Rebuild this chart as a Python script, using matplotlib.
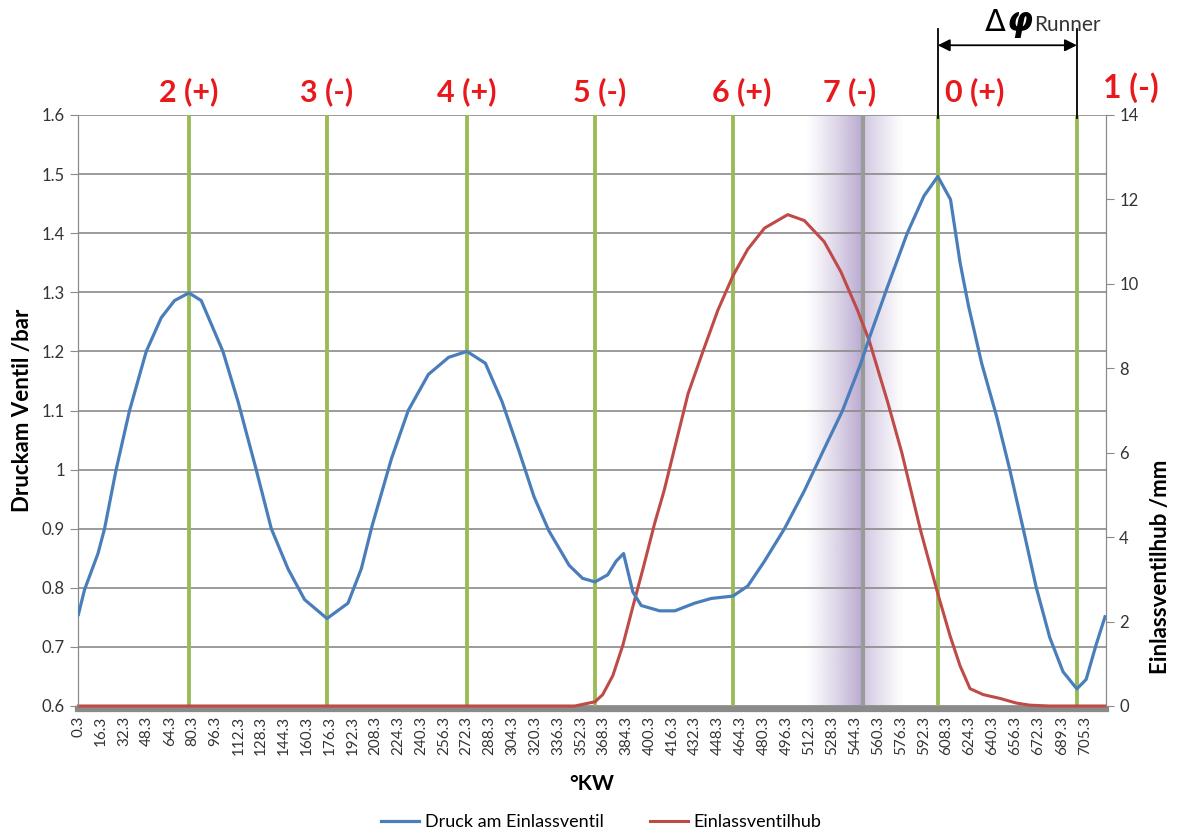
import numpy as np
import matplotlib
matplotlib.use("Agg")
import matplotlib.pyplot as plt
from matplotlib.ticker import FuncFormatter, FixedLocator
from matplotlib.transforms import blended_transform_factory

plt.rcParams['font.family'] = ['Lato', 'DejaVu Sans']

# Kurbelwinkel (deg) und Druck am Einlassventil (bar)
druck_kw = [0.3, 4.6, 14.0, 18.6, 26.7, 36.1, 47.8, 58.3, 67.6, 77.7, 86.3, 101.5, 112.1,
            124.8, 135.4, 147.1, 158.7, 174.4, 189.1, 198.4, 206.0, 219.6, 231.3, 245.4,
            259.6, 272.4, 285.3, 297.0, 308.8, 319.4, 329.9, 344.0, 353.4, 362.1, 371.0,
            376.9, 382.1, 388.6, 394.5, 407.4, 418.0, 431.9, 443.6, 458.7, 469.1, 480.8,
            494.8, 508.7, 522.6, 535.5, 548.3, 554.1, 566.9, 580.8, 592.5, 602.2, 611.1,
            617.8, 623.7, 632.9, 643.4, 652.6, 662.0, 671.2, 680.6, 689.9, 699.6, 706.1,
            713.0, 719.3]
druck = [0.755, 0.797, 0.858, 0.90, 1.0, 1.10, 1.20, 1.257, 1.286, 1.299, 1.286, 1.20, 1.115,
         1.0, 0.90, 0.832, 0.78, 0.748, 0.774, 0.832, 0.905, 1.019, 1.10, 1.161,
         1.19, 1.20, 1.18, 1.115, 1.032, 0.954, 0.896, 0.838, 0.816, 0.81, 0.822,
         0.845, 0.858, 0.793, 0.77, 0.761, 0.761, 0.774, 0.782, 0.786, 0.803, 0.845,
         0.90, 0.964, 1.035, 1.10, 1.18, 1.222, 1.309, 1.40, 1.463, 1.496, 1.457,
         1.35, 1.277, 1.18, 1.09, 1.0, 0.90, 0.80, 0.716, 0.658, 0.629, 0.645,
         0.703, 0.751]

# Einlassventilhub (mm)
hub_kw = [0.3, 348.0, 362.1, 367.5, 374.6, 381.6, 388.6, 395.7, 403.9, 410.5, 418.0, 427.3,
          437.8, 448.2, 458.7, 469.1, 480.8, 497.1, 508.7, 522.6, 534.4, 545.9, 554.1,
          566.9, 577.0, 590.2, 602.2, 610.9, 617.8, 624.8, 634.0, 645.7, 657.2, 666.6,
          680.0, 719.3]
hub = [0.0, 0.0, 0.1, 0.27, 0.72, 1.44, 2.35, 3.25, 4.33, 5.1, 6.13, 7.4,
       8.41, 9.38, 10.19, 10.82, 11.32, 11.64, 11.50, 11.0, 10.28, 9.38, 8.66,
       7.22, 6.0, 4.15, 2.66, 1.65, 0.95, 0.41, 0.27, 0.18, 0.07, 0.02,
       0.0, 0.0]

tick_labels = ['0.3', '16.3', '32.3', '48.3', '64.3', '80.3', '96.3', '112.3', '128.3',
               '144.3', '160.3', '176.3', '192.3', '208.3', '224.3', '240.3', '256.3',
               '272.3', '288.3', '304.3', '320.3', '336.3', '352.3', '368.3', '384.3',
               '400.3', '416.3', '432.3', '448.3', '464.3', '480.3', '496.3', '512.3',
               '528.3', '544.3', '560.3', '576.3', '592.3', '608.3', '624.3', '640.3',
               '656.3', '672.3', '689.3', '705.3']

# Takt-Markierungen
marker_kw = [77.7, 174.4, 272.4, 362.0, 458.7, 602.2, 699.6]
marker_txt = ['2 (+)', '3 (-)', '4 (+)', '5 (-)', '6 (+)', '0 (+)', '1 (-)']
grau_kw = 549.7
grau_txt = '7 (-)'

blue = '#4A7EBB'
red = '#BE4B48'
green = '#9BBB59'
gray = '#8a8a8a'

fig = plt.figure(figsize=(11.84, 8.34), dpi=100)
ax = fig.add_axes([78/1184, 1-706/834, (1106-78)/1184, (706-115)/834])
ax2 = ax.twinx()
ax.set_zorder(2)
ax.patch.set_visible(False)

ax.set_xlim(0, 720)
ax.set_ylim(0.6, 1.6)
ax2.set_ylim(0, 14)

# purple shaded band around marker 7
xs = np.linspace(509, 578, 300)
alpha = np.where(xs < grau_kw,
                 0.62 * ((xs - 509) / (grau_kw - 509)) ** 1.2,
                 0.40 * (1 - (xs - grau_kw) / (578 - grau_kw)) ** 1.1)
img = np.zeros((1, len(xs), 4))
img[..., 0] = 140/255
img[..., 1] = 115/255
img[..., 2] = 178/255
img[..., 3] = alpha
ax2.imshow(img, extent=[509, 578, 0, 14], aspect='auto', zorder=0, interpolation='bilinear')
ax2.set_xlim(0, 720)

for y in np.arange(0.6, 1.61, 0.1):
    ax2.axhline((y - 0.6) * 14, color=gray, lw=1.2, zorder=0.5)

for k in marker_kw:
    ax2.axvline(k, color=green, lw=2.8, zorder=1)
ax2.axvline(grau_kw, color='#9a9a9a', lw=3, zorder=1)

ax2.plot(hub_kw, hub, color=red, lw=2.2, zorder=3, label='Einlassventilhub', clip_on=False)
ax.plot(druck_kw, druck, color=blue, lw=2.3, zorder=3, label='Druck am Einlassventil')

# axes styling
for a in (ax, ax2):
    a.spines['top'].set_visible(False)
    a.spines['left'].set_color(gray)
    a.spines['right'].set_color(gray)
ax.spines['bottom'].set_visible(False)
ax2.spines['bottom'].set_visible(True)
ax2.spines['bottom'].set_color(gray)
ax2.spines['bottom'].set_linewidth(4.5)
ax2.spines['bottom'].set_position(('outward', 2))

ax.yaxis.set_major_locator(FixedLocator(np.round(np.arange(0.6, 1.61, 0.1), 1)))
ax.yaxis.set_major_formatter(FuncFormatter(lambda v, p: '%g' % round(v, 1)))
ax.tick_params(axis='y', labelsize=12, length=6, color=gray, labelcolor='#333333')
ax2.set_yticks(range(0, 15, 2))
ax2.tick_params(axis='y', labelsize=12, length=6, color=gray, labelcolor='#333333')

ax.set_xticks([float(t) for t in tick_labels])
ax.set_xticklabels(tick_labels, rotation=90, fontsize=11, color='#333333')
ax.tick_params(axis='x', length=0, pad=7)
ax2.tick_params(axis='x', length=0, labelbottom=False)

ax.set_ylabel('Druckam Ventil /bar', fontsize=16, fontweight='bold', labelpad=6)
ax2.set_ylabel('Einlassventilhub /mm', fontsize=16, fontweight='bold')
ax2.yaxis.set_label_coords(1.043, 0.235)
ax.set_xlabel('°KW', fontsize=15, fontweight='bold', labelpad=14)

# top labels
tr = blended_transform_factory(ax.transData, ax.transAxes)
offsets = [0, 0, 0, 3, 6, 26, 38]
ys = [1.04, 1.04, 1.04, 1.04, 1.04, 1.04, 1.047]
sizes = [22, 22, 22, 22, 22, 22, 23]
for k, t, o, yy, fs in zip(marker_kw, marker_txt, offsets, ys, sizes):
    ax.text(k + o, yy, t, transform=tr, ha='center', va='center', color='#E8181C',
            fontsize=fs, fontweight='bold', clip_on=False)
ax.text(grau_kw - 9, 1.04, grau_txt, transform=tr, ha='center', va='center',
        color='#E8181C', fontsize=22, fontweight='bold', clip_on=False)

# Delta phi Runner annotation
p0, p1 = marker_kw[5], marker_kw[6]
for k in (p0, p1):
    ax.plot([k, k], [0.995, 1.145], transform=tr, color='black', lw=1.3, clip_on=False, zorder=5)
ax.annotate('', xy=(p0, 1.118), xytext=(p1, 1.118), xycoords=tr, textcoords=tr,
            arrowprops=dict(arrowstyle='<|-|>', color='black', lw=1.3,
                            mutation_scale=18, shrinkA=0, shrinkB=0))
fig.text(985/1184, 1-31/834, 'Δ', fontsize=22, family='DejaVu Sans', va='baseline')
fig.text(1006/1184, 1-31/834, 'φ', fontsize=24, family='DejaVu Sans', fontweight='bold',
         fontstyle='italic', va='baseline')
fig.text(1034/1184, 1-31/834, 'Runner', fontsize=15, va='baseline', color='#333333')

h1, l1 = ax.get_legend_handles_labels()
h2, l2 = ax2.get_legend_handles_labels()
fig.legend(h1 + h2, l1 + l2, loc='center', bbox_to_anchor=(0.508, 1-822/834), ncol=2,
           frameon=False, fontsize=13, handlelength=2.1, columnspacing=2.6, handletextpad=0.3)

fig.savefig('out.png', dpi=100)
